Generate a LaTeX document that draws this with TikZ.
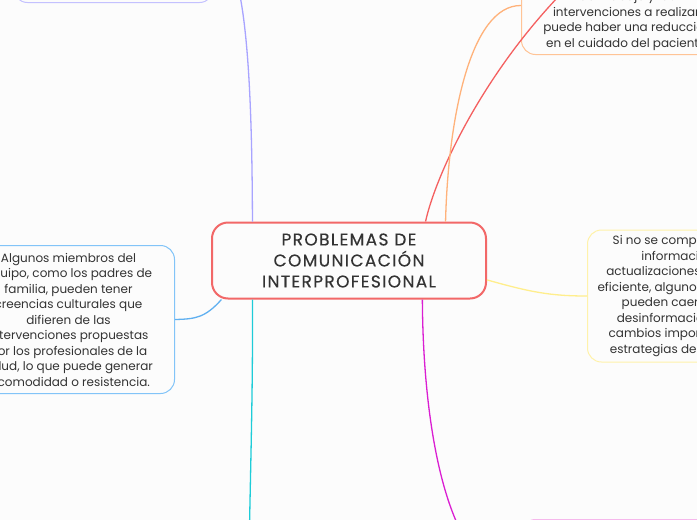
\documentclass[tikz,border=0pt]{standalone}
\usepackage{fontspec}
\setmainfont{Poppins}
\newfontfamily\titulo[LetterSpace=8,FakeBold=0.4]{Poppins}
\usetikzlibrary{positioning}

\definecolor{fondo}{RGB}{252,252,252}
\definecolor{texto}{RGB}{51,51,51}
\definecolor{rojo}{RGB}{242,104,104}
\definecolor{rojolinea}{RGB}{244,96,96}
\definecolor{lila}{RGB}{168,164,255}
\definecolor{lilacaja}{RGB}{196,193,255}
\definecolor{naranja}{RGB}{255,178,122}
\definecolor{naranjacaja}{RGB}{255,196,150}
\definecolor{amarillo}{RGB}{255,238,140}
\definecolor{amarillocaja}{RGB}{255,242,170}
\definecolor{azul}{RGB}{96,176,240}
\definecolor{azulcaja}{RGB}{130,196,248}
\definecolor{cian}{RGB}{30,204,216}
\definecolor{magenta}{RGB}{218,30,210}
\definecolor{rosacaja}{RGB}{246,184,236}

\begin{document}
\begin{tikzpicture}[x=1pt,y=-1pt,
  idea/.style={draw, line width=1pt, rounded corners=14pt, align=center,
    text=texto, fill=fondo, inner xsep=10pt, inner ysep=0pt,
    font=\fontsize{12}{15.5}\selectfont},
  rama/.style={line width=1.3pt}]
  \useasboundingbox (0,0) rectangle (697,520);
  \fill[fondo] (0,0) rectangle (697,520);
  \clip (0,0) rectangle (697,520);

  % central topic
  \node[idea, draw=rojo, line width=2pt, rounded corners=16pt,
    minimum width=274pt, minimum height=76pt,
    font=\titulo\fontsize{17}{21}\selectfont] (problemas) at (349,260.5)
    {PROBLEMAS DE\\COMUNICACIÓN\\INTERPROFESIONAL};

  % subtopics
  \node[idea, draw=azulcaja, minimum width=212pt, minimum height=148pt,
    anchor=north east] (equipo) at (175,245)
    {Algunos miembros del\\equipo, como los padres de\\familia, pueden tener\\creencias culturales que\\difieren de las\\intervenciones propuestas\\por los profesionales de la\\salud, lo que puede generar\\incomodidad o resistencia.};
  \node[idea, draw=amarillocaja, minimum width=186pt, minimum height=132pt,
    anchor=west] (informacion) at (587,296)
    {Si no se comparte toda\\información y\\actualizaciones de forma\\eficiente, algunos miembros\\pueden caer en una\\desinformación sobre\\cambios importantes en\\estrategias de atención.};
  \node[idea, draw=naranjacaja, minimum width=212pt, minimum height=98pt,
    anchor=south west] (trabajo) at (521,55)
    {Si no hay claridad en la\\distribución\\del trabajo y las\\intervenciones a realizar,\\puede haber una reducción\\en el cuidado del paciente.};
  \node[idea, draw=lilacaja, minimum width=200pt, minimum height=110pt,
    anchor=south west] (familia) at (13,3) {};
  \node[idea, draw=rosacaja, minimum width=200pt, minimum height=120pt,
    anchor=north west] (roles) at (521,519) {};

  % free ends
  \coordinate (rojofin) at (580,-25);
  \coordinate (cianfin) at (249,560);

  % branches
  \draw[rama, lila] (problemas.158) .. controls (252,60) and (244,-52) .. (familia.east);
  \draw[rama, rojolinea] (problemas.27) .. controls (437,170) and (490,60) .. (rojofin);
  \draw[rama, naranja] (problemas.22) .. controls (448,120) and (470,5) .. (trabajo.west);
  \draw[rama, amarillo] (problemas.-8.8) .. controls (530,292) and (550,296) .. (informacion.west);
  \draw[rama, azul] (problemas.197) .. controls (205,318) and (195,319) .. (equipo.east);
  \draw[rama, cian] (problemas.202) .. controls (253,400) and (250,480) .. (cianfin);
  \draw[rama, magenta] (problemas.332) .. controls (423,430) and (448,579) .. (roles.west);
\end{tikzpicture}
\end{document}
